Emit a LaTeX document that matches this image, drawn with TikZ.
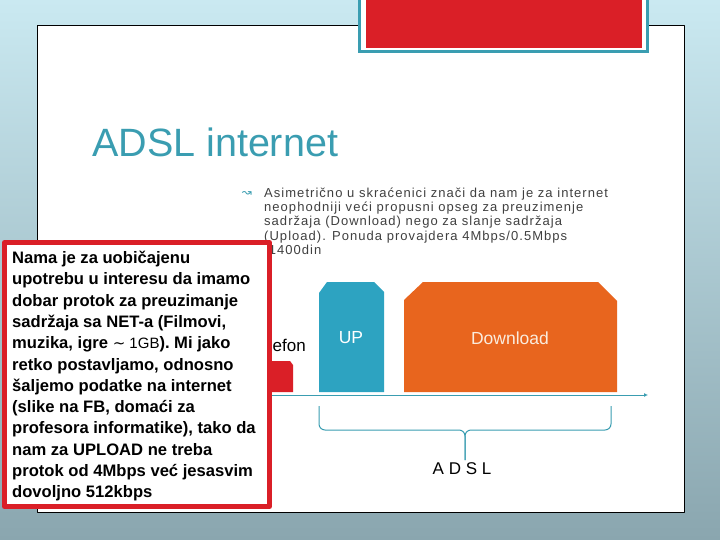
\documentclass[tikz,border=0pt]{standalone}
\usepackage{fontspec}
\setmainfont{Liberation Sans}
\newfontfamily\symfont{DejaVu Sans}
\usetikzlibrary{arrows.meta}

\definecolor{bgtop}{RGB}{202,233,241}
\definecolor{bgbottom}{RGB}{138,166,175}
\definecolor{slideteal}{RGB}{58,157,177}
\definecolor{upblue}{RGB}{45,163,193}
\definecolor{dlorange}{RGB}{232,101,30}
\definecolor{boxred}{RGB}{218,31,39}
\definecolor{bodygray}{RGB}{64,64,64}
\definecolor{dlcream}{RGB}{250,236,222}

\begin{document}
\begin{tikzpicture}[x=1pt, y=-1pt, >=Latex, line join=round,
	bandlabel/.style={inner sep=0, font=\fontsize{17.5}{20}\selectfont},
	axisline/.style={draw=slideteal, line width=1pt, -{Latex[length=4pt,width=4pt]}},
	bracestyle/.style={draw=slideteal, line width=1pt, rounded corners=6pt}]

\useasboundingbox (0,0) rectangle (720,540);

%========================
% Background and slide
%========================
\shade[top color=bgtop, bottom color=bgbottom] (0,0) rectangle (720,540);
\draw[black, line width=1pt, fill=white] (37,26) rectangle (684,512);

% red tab on top
\fill[slideteal] (358,0) rectangle (649,53);
\fill[white] (361,0) rectangle (646,50);
\fill[boxred] (366,0) rectangle (642,48);

% title
\node[anchor=base west, inner sep=0, text=slideteal,
	font=\fontsize{39.5}{42}\selectfont] (title) at (92,157) {ADSL internet};

%========================
% Bullet text
%========================
\node[inner sep=0, text=slideteal, font=\symfont\fontsize{12}{12}\selectfont]
	(bullet) at (247,194) {↝};
\node[anchor=north west, inner sep=0, align=left, text=bodygray,
	font=\fontsize{13}{14.25}\selectfont\addfontfeature{LetterSpace=8}]
	(bullettext) at (264,187.5)
	{Asimetrično u skraćenici znači da nam je za internet\\
	neophodniji veći propusni opseg za preuzimenje\\
	sadržaja (Download) nego za slanje sadržaja\\
	(Upload). Ponuda provajdera 4Mbps/0.5Mbps\\
	/1400din};

%========================
% Bands on the line
%========================
\node[anchor=base east, inner sep=0, font=\fontsize{17}{20}\selectfont]
	(phone) at (306,351) {Telefon};
\fill[boxred] (240,392) -- (240,361) -- (290,361) -- (293,365) -- (293,392) -- cycle;
\fill[upblue] (319,392) -- (319,293) -- (327,282) -- (374,282) -- (384,292) -- (384,392) -- cycle;
\fill[dlorange] (404,392) -- (404,300) -- (423,282) -- (598,282) -- (617,301) -- (617,392) -- cycle;
\node[bandlabel, anchor=base, text=white] (up) at (351,343) {UP};
\node[bandlabel, anchor=base, text=dlcream] (download) at (510,344) {Download};

% frequency axis
\coordinate (axisstart) at (250,395);
\coordinate (axisend) at (648,395);
\draw[axisline] (axisstart) -- (axisend);

% brace under UP and Download
\coordinate (braceL) at (319,406);
\coordinate (braceR) at (611,406);
\coordinate (braceMid) at (465,430);
\coordinate (braceTip) at (465,460);
\draw[bracestyle] (braceL) |- (braceMid) -- (braceTip);
\draw[bracestyle] (braceR) |- (braceMid) -- (braceTip);
\node[anchor=base, inner sep=0, font=\fontsize{17}{20}\selectfont]
	(adsl) at (462,474) {A D S L};

%========================
% Red note box
%========================
\draw[boxred, line width=5pt, fill=white] (4.5,242.5) rectangle (269.5,506.5);
\node[anchor=north west, inner sep=0, align=left,
	font=\bfseries\fontsize{16.6}{21.3}\selectfont] (note) at (12,251)
	{Nama je za uobičajenu\\
	upotrebu u interesu da imamo\\
	dobar protok za preuzimanje\\
	sadržaja sa NET-a (Filmovi,\\
	muzika, igre {\mdseries\fontsize{15}{21.3}\selectfont{\symfont∼}\ 1GB}). Mi jako\\
	retko postavljamo, odnosno\\
	šaljemo podatke na internet\\
	(slike na FB, domaći za\\
	profesora informatike), tako da\\
	nam za UPLOAD ne treba\\
	protok od 4Mbps već jesasvim\\
	dovoljno 512kbps};

\end{tikzpicture}
\end{document}
